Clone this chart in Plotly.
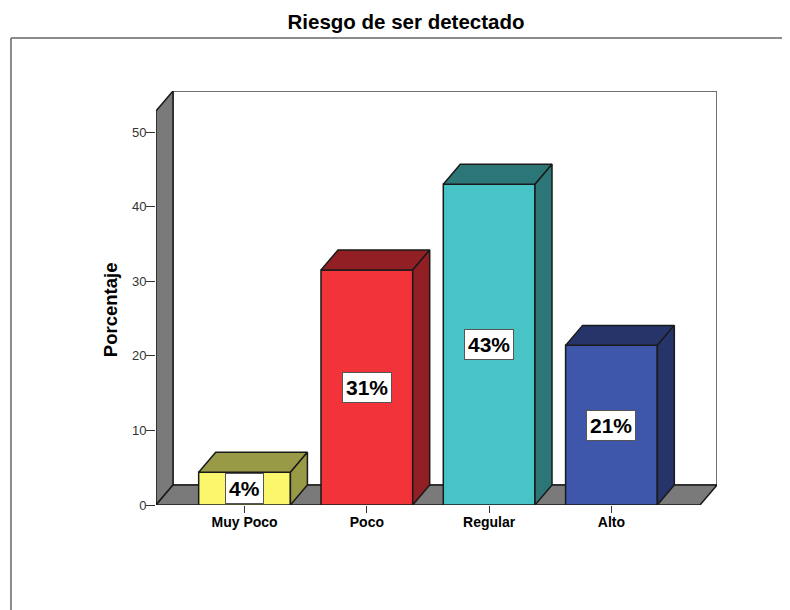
#!/usr/bin/env python3
import plotly.graph_objects as go

categorias = ['Muy Poco', 'Poco', 'Regular', 'Alto']
porcentajes = [4.4, 31.5, 43.0, 21.4]
etiquetas = ['4%', '31%', '43%', '21%']

col_frente = ['#FAF76C', '#F2333A', '#48C3C6', '#3E57AB']
col_oscuro = ['#999A45', '#911F24', '#2C7678', '#26346A']

FONT = 'Liberation Sans'
GRIS = '#7A7A7A'
ANCHO = 0.75                  # bar width in category units
DX, DY = 0.139, 2.68          # depth of the fake 3D box, axis units
X0, X1 = -0.724, 3.724        # front edge of the floor
YMAX = 55.5


def poly(fig, xs, ys, fill, line='#1a1a1a'):
    fig.add_trace(go.Scatter(
        x=xs + xs[:1], y=ys + ys[:1], mode='lines', fill='toself',
        fillcolor=fill, line=dict(color=line, width=1.5), hoverinfo='skip'))


fig = go.Figure()

# walls and floor
poly(fig, [X0 + DX, X1 + DX, X1 + DX, X0 + DX], [DY, DY, YMAX, YMAX], 'white', '#444444')
poly(fig, [X0, X0 + DX, X0 + DX, X0], [0, DY, YMAX, YMAX - DY], GRIS)
poly(fig, [X0, X1, X1 + DX, X0 + DX], [0, 0, DY, DY], GRIS)

for i, v in enumerate(porcentajes):
    a, b = i - ANCHO / 2, i + ANCHO / 2
    poly(fig, [a, b, b, a], [0, 0, v, v], col_frente[i])
    poly(fig, [a, b, b + DX, a + DX], [v, v, v + DY, v + DY], col_oscuro[i])
    poly(fig, [b, b + DX, b + DX, b], [0, DY, v + DY, v], col_oscuro[i])
    fig.add_annotation(x=i, y=v / 2, text='<b>' + etiquetas[i] + '</b>', showarrow=False,
                       font=dict(family=FONT, size=21, color='black'),
                       bgcolor='white', bordercolor='#555555', borderwidth=1, borderpad=3)

# y title sits a little below the middle of the axis, so not the axis title
fig.add_annotation(xref='paper', yref='paper', x=-0.082, y=0.473, text='<b>Porcentaje</b>',
                   textangle=-90, showarrow=False, xanchor='center', yanchor='middle',
                   font=dict(family=FONT, size=18.5, color='black'))

# outer frame of the output viewer
fig.add_shape(type='line', xref='paper', yref='paper', x0=-0.2585, x1=1.13, y0=1.128, y1=1.128,
              line=dict(color='#666666', width=1.5))
fig.add_shape(type='line', xref='paper', yref='paper', x0=-0.2585, x1=-0.2585, y0=1.128, y1=-0.2536,
              line=dict(color='#666666', width=1.5))

fig.update_xaxes(range=[X0, X1 + DX], tickmode='array', tickvals=list(range(4)), ticktext=categorias,
                 ticks='outside', ticklen=7, tickcolor='#333333', showgrid=False, zeroline=False,
                 ticklabelstandoff=-3,
                 tickfont=dict(family=FONT, size=14, color='black', weight='bold'))
fig.update_yaxes(range=[0, YMAX], tickmode='array', tickvals=[0, 10, 20, 30, 40, 50],
                 ticks='outside', ticklen=9, tickcolor='#333333', showgrid=False, zeroline=False,
                 ticklabelstandoff=-3,
                 tickfont=dict(family=FONT, size=13, color='#333333'))
# the page body adds 8px on the top and left, so everything is laid out 8px short
fig.update_layout(
    width=782, height=602, autosize=False,
    margin=dict(l=148, r=73, t=83, b=105),
    showlegend=False,
    plot_bgcolor='white',
    paper_bgcolor='white',
    title=dict(text='<b>Riesgo de ser detectado</b>', x=398 / 782, xanchor='center',
               y=1 - 14 / 602, yanchor='middle',
               font=dict(family=FONT, size=20.5, color='black')),
)

fig.write_html("out.html")
